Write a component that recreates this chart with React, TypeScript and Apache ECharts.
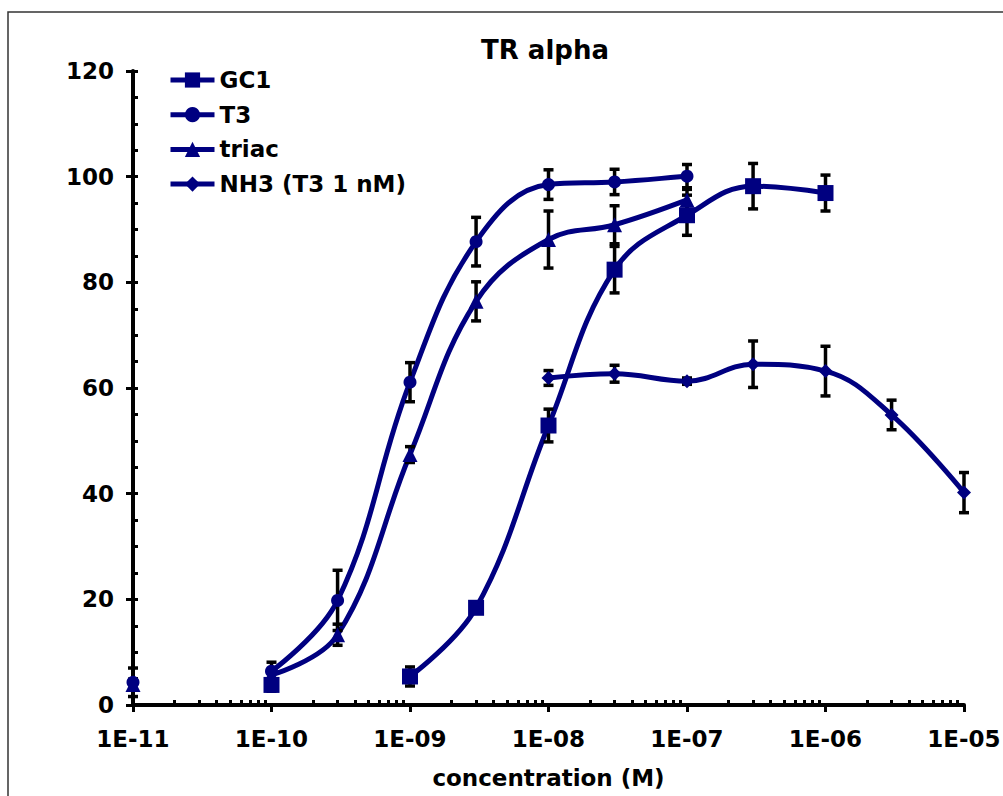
import React, { useEffect, useRef } from 'react';
import * as echarts from 'echarts';

const FONT = "'DejaVu Sans', Verdana, sans-serif";
const NAVY = '#000080';

// concentrations (M) and responses (%) with error (±)
const gc1Conc = [1e-9, 3e-9, 1e-8, 3e-8, 1e-7, 3e-7, 1e-6];
const gc1Mean = [5.4, 18.4, 52.9, 82.4, 92.7, 98.2, 96.9];
const gc1Err = [1.8, 0.8, 3.1, 4.4, 3.8, 4.3, 3.4];

const t3Conc = [1e-10, 3e-10, 1e-9, 3e-9, 1e-8, 3e-8, 1e-7];
const t3Mean = [6.4, 19.8, 61.1, 87.7, 98.5, 99.0, 100.1];
const t3Err = [1.7, 5.7, 3.7, 4.6, 2.8, 2.4, 2.2];

const triacConc = [1e-10, 3e-10, 1e-9, 3e-9, 1e-8, 3e-8, 1e-7];
const triacMean = [5.7, 13.3, 47.4, 76.4, 88.1, 90.9, 95.6];
const triacErr = [1.0, 2.0, 1.5, 3.7, 5.4, 3.6, 2.0];

const nh3Conc = [1e-8, 3e-8, 1e-7, 3e-7, 1e-6, 3e-6, 1e-5];
const nh3Mean = [61.9, 62.7, 61.3, 64.5, 63.2, 54.9, 40.2];
const nh3Err = [1.4, 1.6, 0.6, 4.4, 4.7, 2.8, 3.8];

// basal points (not joined to the curves)
const gc1BaseConc = [1e-10];
const gc1BaseMean = [3.8];
const gc1BaseErr = [1.2];
const baseConc = [1e-11];
const t3BaseMean = [4.3];
const t3BaseErr = [2.7];
const triacBaseMean = [3.9];
const triacBaseErr = [1.0];

const seriesNames = ['GC1', 'T3', 'triac', 'NH3 (T3 1 nM)'];
const xMin = 1e-11;
const xMax = 1e-5;
const decadeExponents = [-11, -10, -9, -8, -7, -6];
const minorMultipliers = [2, 3, 4, 5, 6, 7, 8, 9];

const pairs = (xs: number[], ys: number[]) => xs.map((x, i) => [x, ys[i]]);
const errs = (xs: number[], ys: number[], es: number[]) => xs.map((x, i) => [x, ys[i] - es[i], ys[i] + es[i]]);

export default function App() {
  const ref = useRef<HTMLDivElement>(null);
  useEffect(() => {
    if (!ref.current) return;
    const chart = echarts.init(ref.current, undefined, { renderer: 'svg' });
    const minorTicks: number[] = [];
    decadeExponents.forEach((e) => minorMultipliers.forEach((m) => minorTicks.push(m * Math.pow(10, e))));

    const lineSeries = (name: string, symbol: string, data: number[][]) => ({
      name,
      type: 'line',
      data,
      smooth: 0.4,
      showSymbol: false,
      symbol,
      lineStyle: { color: NAVY, width: 5 },
      itemStyle: { color: NAVY },
      z: 2,
    });
    const markerSeries = (name: string, symbol: string, size: number, data: number[][]) => ({
      name,
      type: 'scatter',
      data,
      symbol,
      symbolSize: size,
      itemStyle: { color: NAVY, opacity: 1 },
      clip: false,
      z: 4,
    });
    const errData = [
      ...errs(gc1BaseConc, gc1BaseMean, gc1BaseErr),
      ...errs(gc1Conc, gc1Mean, gc1Err),
      ...errs(t3Conc, t3Mean, t3Err),
      ...errs(triacConc, triacMean, triacErr),
      ...errs(nh3Conc, nh3Mean, nh3Err),
      ...errs(baseConc, t3BaseMean, t3BaseErr),
      ...errs(baseConc, triacBaseMean, triacBaseErr),
    ];

    const axisFont = { fontFamily: FONT, fontWeight: 'bold' as const, fontSize: 23, color: '#000' };

    chart.setOption({
      animation: false,
      backgroundColor: '#fff',
      grid: { left: 133, right: 39, top: 71, bottom: 91, outerBoundsMode: 'none' },
      graphic: [
        {
          type: 'rect',
          shape: { x: 8, y: 12, width: 1010, height: 800 },
          style: { fill: 'none', stroke: '#333', lineWidth: 1.5 },
          silent: true,
          z: -1,
        },
        {
          type: 'text',
          x: 545,
          y: 50,
          style: {
            text: 'TR alpha',
            fontFamily: FONT,
            fontWeight: 'bold',
            fontSize: 26,
            fill: '#000',
            textAlign: 'center',
            textVerticalAlign: 'middle',
          },
        },
      ],
      legend: {
        data: seriesNames,
        orient: 'vertical',
        left: 163,
        top: 62,
        itemWidth: 44,
        itemHeight: 19,
        itemGap: 8.7,
        lineStyle: { width: 5 },
        textStyle: { ...axisFont, lineHeight: 26 },
      },
      xAxis: [
        {
          type: 'log',
          logBase: 10,
          min: xMin,
          max: xMax,
          splitNumber: 6,
          position: 'bottom',
          name: 'concentration (M)',
          nameLocation: 'middle',
          nameGap: 61,
          nameTextStyle: axisFont,
          axisLine: { show: true, lineStyle: { color: '#000', width: 4 } },
          axisTick: { show: true, inside: false, length: 7, lineStyle: { color: '#000', width: 3 } },
          axisLabel: {
            ...axisFont,
            margin: 22,
            formatter: (v: number) => {
              const e = Math.round(Math.log10(v));
              return '1E-' + String(-e).padStart(2, '0');
            },
          },
          splitLine: { show: false },
        },
        {
          type: 'log',
          logBase: 10,
          min: xMin,
          max: xMax,
          position: 'bottom',
          axisLine: { show: false },
          axisLabel: { show: false },
          splitLine: { show: false },
          axisTick: {
            show: true,
            inside: true,
            length: 5,
            lineStyle: { color: '#000', width: 3 },
            customValues: minorTicks,
          },
        },
      ],
      yAxis: [
        {
          type: 'value',
          min: 0,
          max: 120,
          interval: 20,
          position: 'left',
          axisLine: { show: true, lineStyle: { color: '#000', width: 4 } },
          axisTick: { show: true, inside: false, length: 7, lineStyle: { color: '#000', width: 3 } },
          axisLabel: { ...axisFont, margin: 19 },
          splitLine: { show: false },
        },
        {
          type: 'value',
          min: 0,
          max: 120,
          interval: 5,
          position: 'left',
          axisLine: { show: false },
          axisLabel: { show: false },
          splitLine: { show: false },
          axisTick: { show: true, inside: true, length: 5, lineStyle: { color: '#000', width: 3 } },
        },
      ],
      series: [
        lineSeries('GC1', 'rect', pairs(gc1Conc, gc1Mean)),
        lineSeries('T3', 'circle', pairs(t3Conc, t3Mean)),
        lineSeries('triac', 'triangle', pairs(triacConc, triacMean)),
        lineSeries('NH3 (T3 1 nM)', 'diamond', pairs(nh3Conc, nh3Mean)),
        {
          name: 'errorbars',
          type: 'custom',
          data: errData,
          encode: { x: 0, y: [1, 2] },
          clip: false,
          z: 3,
          renderItem: (params: any, api: any) => {
            const x = api.value(0);
            const lo = api.coord([x, api.value(1)]);
            const hi = api.coord([x, api.value(2)]);
            const hw = 5;
            const st = { stroke: '#000', lineWidth: 3.5 };
            return {
              type: 'group',
              children: [
                { type: 'line', shape: { x1: lo[0], y1: lo[1], x2: hi[0], y2: hi[1] }, style: st },
                { type: 'line', shape: { x1: lo[0] - hw, y1: lo[1], x2: lo[0] + hw, y2: lo[1] }, style: st },
                { type: 'line', shape: { x1: hi[0] - hw, y1: hi[1], x2: hi[0] + hw, y2: hi[1] }, style: st },
              ],
            };
          },
        },
        markerSeries('GC1 markers', 'rect', 16, [...pairs(gc1BaseConc, gc1BaseMean), ...pairs(gc1Conc, gc1Mean)]),
        markerSeries('T3 markers', 'circle', 13, [...pairs(baseConc, t3BaseMean), ...pairs(t3Conc, t3Mean)]),
        markerSeries('triac markers', 'triangle', 15, [...pairs(baseConc, triacBaseMean), ...pairs(triacConc, triacMean)]),
        markerSeries('NH3 markers', 'diamond', 14, pairs(nh3Conc, nh3Mean)),
      ],
    });
    return () => chart.dispose();
  }, []);
  return <div ref={ref} style={{ position: 'absolute', left: 0, top: 0, width: 1003, height: 796 }} />;
}
